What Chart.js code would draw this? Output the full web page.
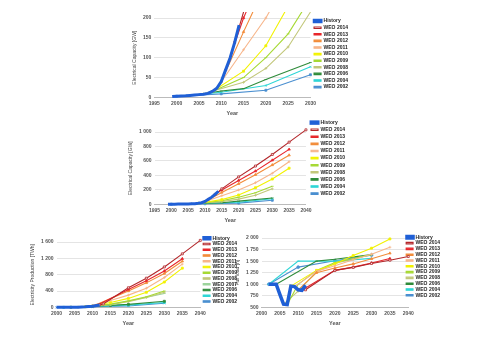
<!DOCTYPE html>
<html>
<head>
<meta charset="utf-8">
<script src="https://cdn.jsdelivr.net/npm/chart.js@4.4.1/dist/chart.umd.min.js"></script>
<style>
  html, body { margin: 0; padding: 0; background: #fff; }
  body { width: 480px; height: 342px; position: relative; overflow: hidden; }
  .box { position: absolute; }
</style>
</head>
<body>
<div class="box" style="left:132px;top:12px;width:226px;height:105px"><canvas id="capZoom"></canvas></div>
<div class="box" style="left:128px;top:119px;width:228px;height:105px"><canvas id="capFull"></canvas></div>
<div class="box" style="left:30px;top:228px;width:217px;height:99px"><canvas id="prod"></canvas></div>
<div class="box" style="left:235px;top:228px;width:245px;height:99px"><canvas id="load"></canvas></div>
<script>
// series colours
const colors = {
  history: '#1f5fd6',
  w2014: '#b3262a',
  w2013: '#e8262b',
  w2012: '#f28c3a',
  w2011: '#f7b58a',
  w2010: '#f2f200',
  w2009: '#a6d933',
  w2008: '#c2c77a',
  w2007: '#9cd49c',
  w2006: '#2e8b3a',
  w2004: '#2fd6d6',
  w2002: '#4a8fd0',
};

// ---- electrical capacity [GW] (top two charts share it) ----
const capHistory = [[1999,2],[2000,3],[2001,3.5],[2002,4],[2003,5],[2004,6],[2005,7],[2006,8],[2007,10],[2008,15],[2009,23],[2010,40],[2011,70],[2012,100],[2013,138],[2014,182]];
const capWeo2014 = [[2013,138],[2015,215],[2020,380],[2025,530],[2030,690],[2035,860],[2040,1030]];
const capWeo2013 = [[2011,70],[2015,200],[2020,330],[2025,460],[2030,610],[2035,760]];
const capWeo2012 = [[2010,40],[2015,165],[2020,285],[2025,410],[2030,545],[2035,680]];
const capWeo2011 = [[2009,23],[2015,120],[2020,200],[2025,300],[2030,430],[2035,590]];
const capWeo2010 = [[2008,15],[2015,66],[2020,130],[2025,230],[2030,350],[2035,500]];
const capWeo2009 = [[2007,10],[2015,50],[2020,100],[2025,160],[2030,250]];
const capWeo2008 = [[2006,9],[2015,38],[2020,73],[2025,127],[2030,215]];
const capWeo2006 = [[2004,6],[2010,16],[2015,22],[2020,45],[2030,88]];
const capWeo2004 = [[2002,4],[2010,13],[2020,30],[2030,77]];
const capWeo2002 = [[2000,3],[2010,9],[2020,18],[2030,57]];

// ---- electricity production [TWh] ----
const prodHistory = [[2000,1],[2002,2],[2004,4],[2006,6],[2008,15],[2010,30],[2012,60]];
const prodWeo2014 = [[2012,60],[2013,85],[2020,480],[2025,715],[2030,990],[2035,1310],[2040,1640]];
const prodWeo2013 = [[2011,40],[2020,440],[2025,650],[2030,890],[2035,1190]];
const prodWeo2012 = [[2010,30],[2020,400],[2025,600],[2030,830],[2035,1130]];
const prodWeo2011 = [[2009,25],[2015,170],[2020,300],[2025,470],[2030,730],[2035,1060]];
const prodWeo2010 = [[2008,15],[2015,120],[2020,220],[2025,370],[2030,620],[2035,960]];
const prodWeo2009 = [[2007,10],[2015,80],[2020,160],[2025,260],[2030,400]];
const prodWeo2008 = [[2006,8],[2015,70],[2020,140],[2025,240],[2030,370]];
const prodWeo2007 = [[2005,5],[2015,60],[2030,340]];
const prodWeo2006 = [[2004,4],[2010,30],[2015,50],[2020,75],[2030,150]];
const prodWeo2004 = [[2002,2],[2010,25],[2020,55],[2030,120]];
const prodWeo2002 = [[2000,1],[2010,15],[2020,35],[2030,100]];

// ---- full load hours [h] ----
const loadHistory = [[2002,1000],[2003,1000],[2004,1000],[2005,780],[2006,570],[2007,560],[2008,960],[2009,950],[2010,880],[2011,870],[2012,980]];
const loadWeo2014 = [[2012,880],[2020,1300],[2025,1365],[2030,1450],[2035,1520],[2040,1600]];
const loadWeo2013 = [[2011,870],[2020,1300],[2025,1370],[2030,1460],[2035,1555]];
const loadWeo2012 = [[2010,880],[2015,1250],[2020,1350],[2025,1440],[2030,1550],[2035,1670]];
const loadWeo2011 = [[2009,950],[2015,1280],[2020,1400],[2025,1530],[2030,1650],[2035,1800]];
const loadWeo2010 = [[2008,960],[2015,1300],[2020,1440],[2025,1620],[2030,1780],[2035,1980]];
const loadWeo2009 = [[2007,560],[2010,1000],[2015,1300],[2020,1470],[2030,1640]];
const loadWeo2008 = [[2006,570],[2010,850],[2015,1270],[2020,1450],[2030,1650]];
const loadWeo2006 = [[2004,1000],[2015,1500],[2020,1540],[2030,1640]];
const loadWeo2004 = [[2002,1000],[2010,1500],[2020,1500],[2030,1560]];
const loadWeo2002 = [[2002,1000],[2010,1370],[2020,1510],[2030,1630]];

const grid = '#e4e4e4';
const font = 'Arial, Liberation Sans, sans-serif';
const fmt = (v) => String(v).replace(/\B(?=(\d{3})+(?!\d))/g, ' ');

// moves the legend block after layout (legend placement independent of plot area)
const legendMove = {
  id: 'legendMove',
  afterLayout(chart, args, opts) {
    const lg = chart.legend;
    if (!lg) return;
    lg.left += opts.dx || 0;
    lg.right += opts.dx || 0;
    lg.top += opts.dy || 0;
    lg.bottom += opts.dy || 0;
  },
};

// one line series
const line = (label, pts, color, style, histWidth) => ({
  label: label,
  data: pts.map((p) => ({ x: p[0], y: p[1] })),
  borderColor: color,
  backgroundColor: style === 'rectHollow' ? '#fff' : color,
  pointBorderColor: color,
  pointStyle: style === 'rectHollow' ? 'rect' : style,
  pointRadius: histWidth ? 0 : 1.4,
  pointBorderWidth: 0.8,
  borderWidth: histWidth || 1.1,
  tension: 0,
  clip: false,
});

const createChart = (id, datasets, o) => {
  new Chart(document.getElementById(id), {
    type: 'line',
    data: { datasets: datasets },
    plugins: [legendMove],
    options: {
      responsive: true,
      maintainAspectRatio: false,
      animation: false,
      events: [],
      layout: { padding: o.pad },
      plugins: {
        tooltip: { enabled: false },
        legendMove: o.move,
        legend: {
          position: 'right',
          align: 'start',
          labels: {
            font: { size: 5, family: font, weight: 'bold' },
            color: '#222',
            boxWidth: 7,
            boxHeight: 1.5,
            padding: o.legPad,
          },
        },
      },
      scales: {
        x: {
          type: 'linear',
          min: o.xMin,
          max: o.xMax,
          ticks: {
            stepSize: 5,
            font: { size: 5, family: font, weight: 'bold' },
            color: '#555',
            padding: 3,
            maxRotation: 0,
            callback: (v) => String(v),
          },
          grid: { display: false, drawTicks: false },
          border: { color: '#bbb' },
          title: {
            display: true,
            text: 'Year',
            font: { size: 5.5, family: font, weight: 'bold' },
            color: '#555',
            padding: { top: 1, bottom: 0 },
          },
        },
        y: {
          min: o.yMin,
          max: o.yMax,
          ticks: {
            stepSize: o.yStep,
            font: { size: 5, family: font, weight: 'bold' },
            color: '#555',
            padding: 3,
            callback: (v) => fmt(v),
          },
          grid: { color: grid, drawTicks: false },
          border: { display: false },
          title: {
            display: true,
            text: o.yTitle,
            font: { size: 5, family: font },
            color: '#444',
            padding: { top: 0, bottom: 2 },
          },
        },
      },
    },
  });
};

const capSeries = () => [
  line('History', capHistory, colors.history, false, 3),
  line('WEO 2014', capWeo2014, colors.w2014, 'rectHollow'),
  line('WEO 2013', capWeo2013, colors.w2013, 'triangle'),
  line('WEO 2012', capWeo2012, colors.w2012, 'triangle'),
  line('WEO 2011', capWeo2011, colors.w2011, 'cross'),
  line('WEO 2010', capWeo2010, colors.w2010, 'rect'),
  line('WEO 2009', capWeo2009, colors.w2009, 'line'),
  line('WEO 2008', capWeo2008, colors.w2008, 'cross'),
  line('WEO 2006', capWeo2006, colors.w2006, 'line'),
  line('WEO 2004', capWeo2004, colors.w2004, 'crossRot'),
  line('WEO 2002', capWeo2002, colors.w2002, 'rect'),
];

createChart('capZoom', capSeries(), {
  xMin: 1995, xMax: 2030, yMin: 0, yMax: 200, yStep: 50,
  yTitle: 'Electrical Capacity [GW]', pad: { top: 6, right: 2, left: 0, bottom: 0 }, legPad: 1.6,
  move: { dx: 2, dy: -1 },
});

createChart('capFull', capSeries(), {
  xMin: 1995, xMax: 2040, yMin: 0, yMax: 1000, yStep: 200,
  yTitle: 'Electrical Capacity [GW]', pad: { top: 13, right: 4, left: 0, bottom: 0 }, legPad: 2.1,
  move: { dx: 3, dy: -14 },
});

createChart('prod', [
  line('History', prodHistory, colors.history, false, 3),
  line('WEO 2014', prodWeo2014, colors.w2014, 'rectHollow'),
  line('WEO 2013', prodWeo2013, colors.w2013, 'triangle'),
  line('WEO 2012', prodWeo2012, colors.w2012, 'triangle'),
  line('WEO 2011', prodWeo2011, colors.w2011, 'cross'),
  line('WEO 2010', prodWeo2010, colors.w2010, 'rect'),
  line('WEO 2009', prodWeo2009, colors.w2009, 'line'),
  line('WEO 2008', prodWeo2008, colors.w2008, 'cross'),
  line('WEO 2007', prodWeo2007, colors.w2007, 'line'),
  line('WEO 2006', prodWeo2006, colors.w2006, 'rect'),
  line('WEO 2004', prodWeo2004, colors.w2004, 'rect'),
  line('WEO 2002', prodWeo2002, colors.w2002, 'crossRot'),
], {
  xMin: 2000, xMax: 2040, yMin: 0, yMax: 1600, yStep: 400,
  yTitle: 'Electricity Production [TWh]', pad: { top: 14, right: 2, left: 0, bottom: 0 }, legPad: 0.75,
  move: { dx: 2, dy: -7 },
});

createChart('load', [
  line('History', loadHistory, colors.history, false, 3.5),
  line('WEO 2014', loadWeo2014, colors.w2014, 'rectHollow'),
  line('WEO 2013', loadWeo2013, colors.w2013, 'triangle'),
  line('WEO 2012', loadWeo2012, colors.w2012, 'triangle'),
  line('WEO 2011', loadWeo2011, colors.w2011, 'cross'),
  line('WEO 2010', loadWeo2010, colors.w2010, 'rect'),
  line('WEO 2009', loadWeo2009, colors.w2009, 'line'),
  line('WEO 2008', loadWeo2008, colors.w2008, 'cross'),
  line('WEO 2006', loadWeo2006, colors.w2006, 'line'),
  line('WEO 2004', loadWeo2004, colors.w2004, 'line'),
  line('WEO 2002', loadWeo2002, colors.w2002, 'circle'),
], {
  xMin: 2000, xMax: 2040, yMin: 500, yMax: 2000, yStep: 250,
  yTitle: 'Full load [h]', pad: { top: 10, right: 27, left: 0, bottom: 0 }, legPad: 0.8,
  move: { dx: -3, dy: -4 },
});
</script>
</body>
</html>
